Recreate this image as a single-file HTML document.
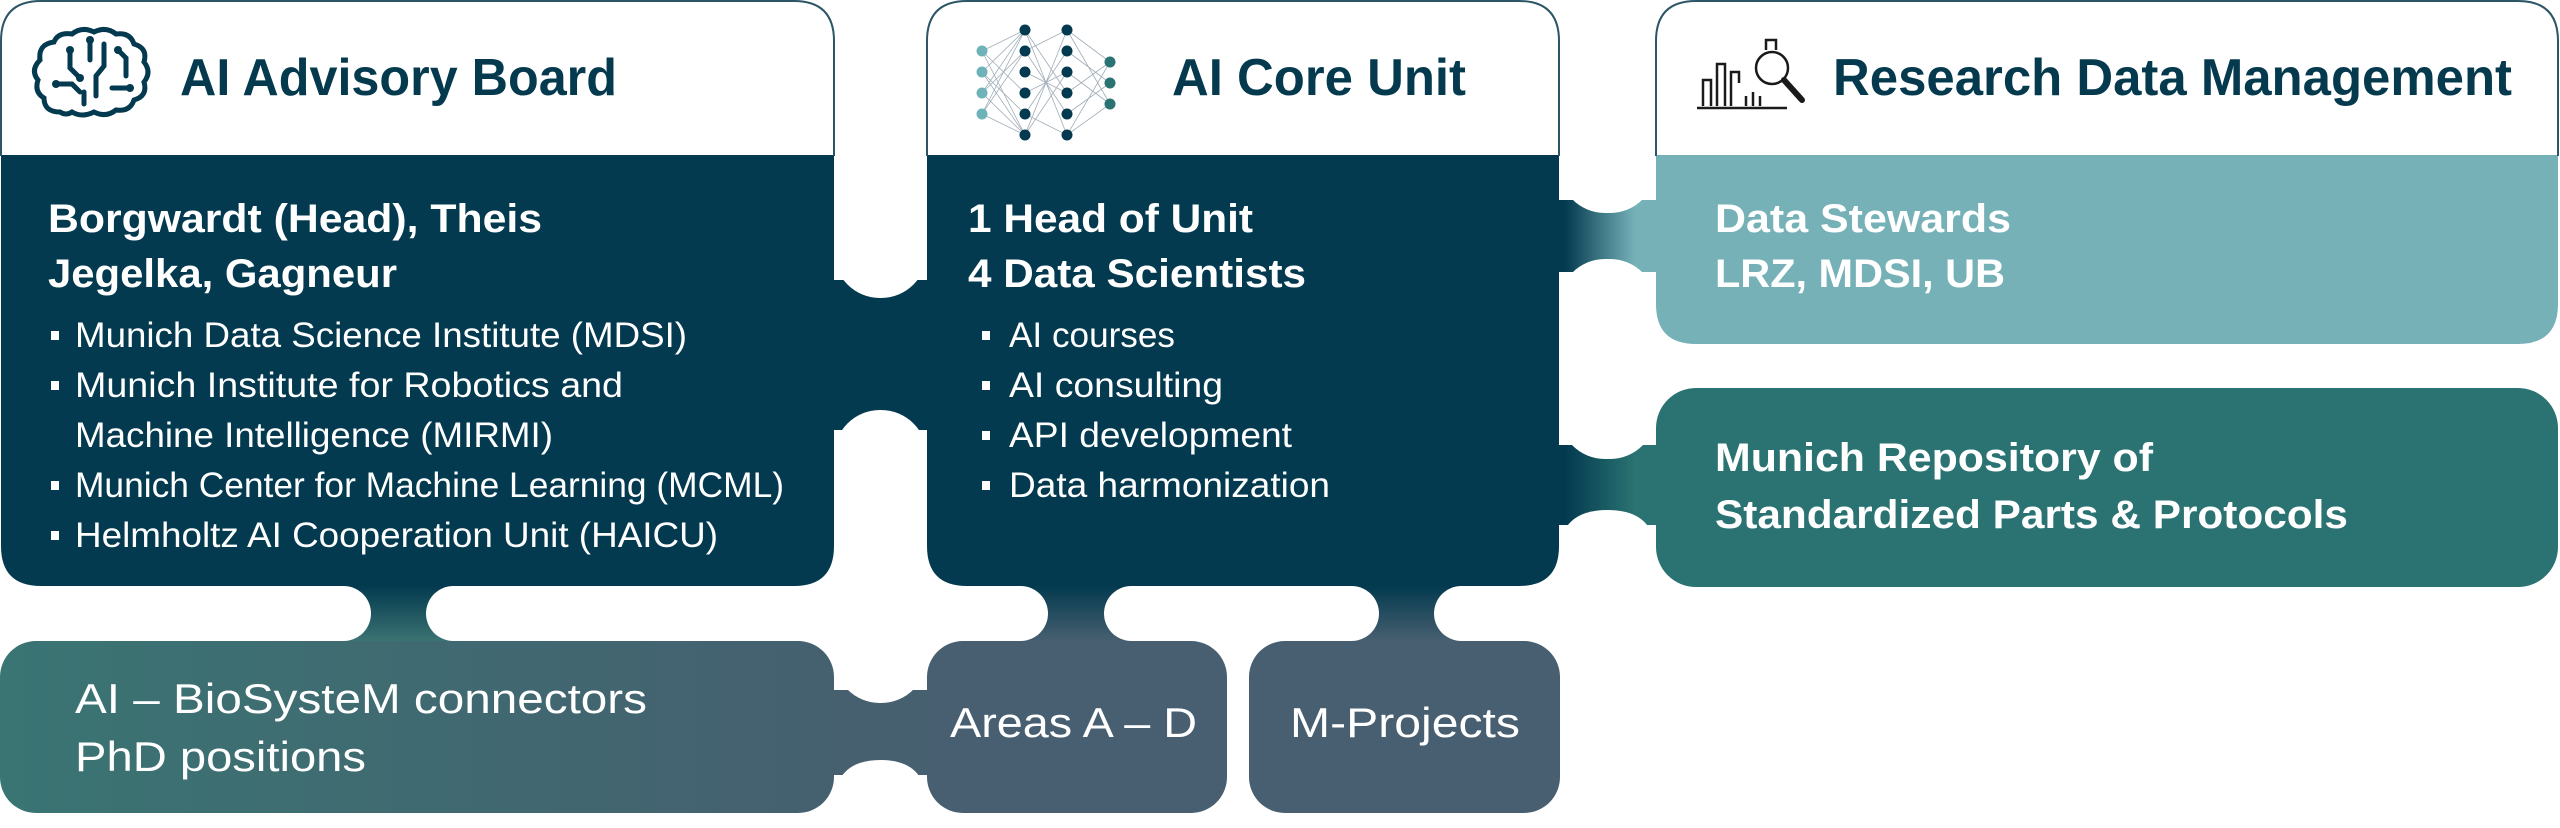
<!DOCTYPE html>
<html><head><meta charset="utf-8"><style>
html,body{margin:0;padding:0;background:#fff;width:2560px;height:828px;overflow:hidden}
svg{display:block}
text{font-family:"Liberation Sans",sans-serif}
</style></head><body>
<svg width="2560" height="828" viewBox="0 0 2560 828" xmlns="http://www.w3.org/2000/svg">
<defs>
<linearGradient id="gBL" x1="0" y1="0" x2="1" y2="0"><stop offset="0" stop-color="#3a7473"/><stop offset="1" stop-color="#45606f"/></linearGradient>
<linearGradient id="gV1" x1="0" y1="586" x2="0" y2="641" gradientUnits="userSpaceOnUse"><stop offset="0" stop-color="#033a4f"/><stop offset="1" stop-color="#3b7272"/></linearGradient>
<linearGradient id="gV2" x1="0" y1="586" x2="0" y2="641" gradientUnits="userSpaceOnUse"><stop offset="0" stop-color="#033a4f"/><stop offset="1" stop-color="#475f70"/></linearGradient>
<linearGradient id="gH1" x1="1565" y1="0" x2="1635" y2="0" gradientUnits="userSpaceOnUse"><stop offset="0" stop-color="#033a4f"/><stop offset="1" stop-color="#76b1b8"/></linearGradient>
<linearGradient id="gH2" x1="1565" y1="0" x2="1635" y2="0" gradientUnits="userSpaceOnUse"><stop offset="0" stop-color="#033a4f"/><stop offset="1" stop-color="#2a7372"/></linearGradient>
</defs>

<rect x="1" y="1" width="833" height="585" rx="40" fill="#fff"/>
<rect x="927" y="1" width="632" height="585" rx="40" fill="#fff"/>
<rect x="1656" y="1" width="902" height="343" rx="40" fill="#fff"/>

<path d="M1 155 H834 V546 Q834 586 794 586 H41 Q1 586 1 546 Z" fill="#033a4f"/>
<path d="M927 155 H1559 V546 Q1559 586 1519 586 H967 Q927 586 927 546 Z" fill="#033a4f"/>
<path d="M1656 155 H2558 V304 Q2558 344 2518 344 H1696 Q1656 344 1656 304 Z" fill="#76b1b8"/>
<rect x="1656" y="388" width="902" height="199" rx="40" fill="#2a7372"/>

<rect x="0" y="641" width="834" height="172" rx="36" fill="url(#gBL)"/>
<rect x="927" y="641" width="300" height="172" rx="36" fill="#475f70"/>
<rect x="1249" y="641" width="311" height="172" rx="36" fill="#475f70"/>

<rect x="834" y="280" width="93" height="150" fill="#033a4f"/>
<rect x="834" y="690" width="93" height="85" fill="#46606f"/>
<rect x="340" y="586" width="120" height="55" fill="url(#gV1)"/>
<rect x="1000" y="586" width="500" height="55" fill="url(#gV2)"/>
<rect x="1559" y="200" width="97" height="72" fill="url(#gH1)"/>
<rect x="1559" y="445" width="97" height="80" fill="url(#gH2)"/>

<g fill="#fff">
<rect x="834" y="100" width="93" height="198" rx="46"/>
<rect x="834" y="410" width="93" height="293" rx="46"/>
<path d="M834 828 V806 Q834 760 880.5 760 Q927 760 927 806 V828 Z"/>
<rect x="250" y="586" width="121" height="55" rx="27.5"/>
<rect x="426" y="586" width="200" height="55" rx="27.5"/>
<rect x="960" y="586" width="88" height="55" rx="27.5"/>
<rect x="1104" y="586" width="275" height="55" rx="27.5"/>
<rect x="1434" y="586" width="106" height="55" rx="27.5"/>
<rect x="1559" y="60" width="97" height="153" rx="46"/>
<rect x="1559" y="259" width="97" height="200" rx="46"/>
<path d="M1559 620 V556 Q1559 510 1607.5 510 Q1656 510 1656 556 V620 Z"/>
</g>

<g fill="none" stroke="#2c5566" stroke-width="2">
<path d="M1 156 V41 Q1 1 41 1 H794 Q834 1 834 41 V156"/>
<path d="M927 156 V41 Q927 1 967 1 H1519 Q1559 1 1559 41 V156"/>
<path d="M1656 156 V41 Q1656 1 1696 1 H2518 Q2558 1 2558 41 V156"/>
</g>

<g fill="none" stroke="#033a4f" stroke-width="5" stroke-linecap="round">
<path d="M60 112 Q44 112 44 98 Q34 92 38 80 Q30 70 40 60 Q38 44 54 42 Q58 32 72 34 Q82 26 94 32 Q106 26 116 34 Q130 32 134 44 Q148 48 144 62 Q152 72 144 82 Q148 96 134 100 Q130 112 116 110 Q106 118 94 112 Q82 118 72 112 Q66 116 60 112 Z"/>
<path d="M70 50 V68 L80 78"/><path d="M90 40 V60"/><path d="M104 44 V66 L96 76 V96"/><path d="M118 50 L126 58 V76"/>
<path d="M56 84 H72 L80 92"/><path d="M112 88 H130"/><path d="M84 104 V92"/>
</g>
<g fill="#033a4f"><circle cx="70" cy="50" r="4"/><circle cx="90" cy="40" r="4"/><circle cx="118" cy="50" r="4"/><circle cx="56" cy="84" r="4"/><circle cx="130" cy="88" r="4"/><circle cx="80" cy="78" r="4"/></g>

<g stroke="#8a99a6" stroke-width="0.8" opacity="0.8">
<path d="M982 51 L1025 30 M982 51 L1025 135 M982 72 L1025 30 M982 72 L1025 135 M982 93 L1025 30 M982 93 L1025 135 M982 114 L1025 30 M982 114 L1025 135 M982 51 L1025 93 M982 114 L1025 51 M982 72 L1025 114 M982 93 L1025 51"/>
<path d="M1025 30 L1067 135 M1025 135 L1067 30 M1025 51 L1067 114 M1025 114 L1067 51 M1025 72 L1067 93 M1025 93 L1067 72 M1025 30 L1067 93 M1025 135 L1067 72 M1025 51 L1067 30 M1025 114 L1067 135"/>
<path d="M1067 30 L1110 62 M1067 30 L1110 104 M1067 135 L1110 62 M1067 135 L1110 104 M1067 51 L1110 83 M1067 72 L1110 104 M1067 93 L1110 62 M1067 114 L1110 83"/>
</g>
<g fill="#6fb3ba"><circle cx="982" cy="51" r="5.5"/><circle cx="982" cy="72" r="5.5"/><circle cx="982" cy="93" r="5.5"/><circle cx="982" cy="114" r="5.5"/></g>
<g fill="#033a4f"><circle cx="1025" cy="30" r="5.5"/><circle cx="1025" cy="51" r="5.5"/><circle cx="1025" cy="72" r="5.5"/><circle cx="1025" cy="93" r="5.5"/><circle cx="1025" cy="114" r="5.5"/><circle cx="1025" cy="135" r="5.5"/>
<circle cx="1067" cy="30" r="5.5"/><circle cx="1067" cy="51" r="5.5"/><circle cx="1067" cy="72" r="5.5"/><circle cx="1067" cy="93" r="5.5"/><circle cx="1067" cy="114" r="5.5"/><circle cx="1067" cy="135" r="5.5"/></g>
<g fill="#2a7372"><circle cx="1110" cy="62" r="5.5"/><circle cx="1110" cy="83" r="5.5"/><circle cx="1110" cy="104" r="5.5"/></g>

<g fill="none" stroke="#1a1a1a" stroke-width="2.5">
<path d="M1697 108 H1787"/>
<path d="M1703 106 V80 H1711 V106"/><path d="M1717 106 V64 H1725 V106"/><path d="M1731 106 V72 H1739 V83"/>
<path d="M1746 106 V96 M1753 106 V92 M1760 106 V96"/>
<circle cx="1772" cy="68" r="16"/>
<path d="M1784 80 L1802 100" stroke-width="6" stroke-linecap="round"/>
<path d="M1766 50 V40 H1776 V50"/>
</g>

<g fill="#053a4e" font-weight="bold" font-size="52">
<text x="180" y="95" textLength="437" lengthAdjust="spacingAndGlyphs">AI Advisory Board</text>
<text x="1172" y="95" textLength="294" lengthAdjust="spacingAndGlyphs">AI Core Unit</text>
<text x="1833" y="95" textLength="679" lengthAdjust="spacingAndGlyphs">Research Data Management</text>
</g>

<g fill="#fff" font-weight="bold" font-size="40">
<text x="48" y="232" textLength="494" lengthAdjust="spacingAndGlyphs">Borgwardt (Head), Theis</text>
<text x="48" y="287" textLength="349" lengthAdjust="spacingAndGlyphs">Jegelka, Gagneur</text>
<text x="968" y="232" textLength="285" lengthAdjust="spacingAndGlyphs">1 Head of Unit</text>
<text x="968" y="287" textLength="338" lengthAdjust="spacingAndGlyphs">4 Data Scientists</text>
<text x="1715" y="232" textLength="296" lengthAdjust="spacingAndGlyphs">Data Stewards</text>
<text x="1715" y="287" textLength="290" lengthAdjust="spacingAndGlyphs">LRZ, MDSI, UB</text>
<text x="1715" y="471" textLength="438" lengthAdjust="spacingAndGlyphs">Munich Repository of</text>
<text x="1715" y="528" textLength="633" lengthAdjust="spacingAndGlyphs">Standardized Parts &amp; Protocols</text>
</g>

<g fill="#fff">
<rect x="51" y="331" width="8" height="9"/><rect x="51" y="381" width="8" height="9"/><rect x="51" y="481" width="8" height="9"/><rect x="51" y="531" width="8" height="9"/>
<rect x="982" y="331" width="8" height="9"/><rect x="982" y="381" width="8" height="9"/><rect x="982" y="431" width="8" height="9"/><rect x="982" y="481" width="8" height="9"/>
</g>
<g fill="#fff" font-size="35">
<text x="75" y="347" textLength="612" lengthAdjust="spacingAndGlyphs">Munich Data Science Institute (MDSI)</text>
<text x="75" y="397" textLength="548" lengthAdjust="spacingAndGlyphs">Munich Institute for Robotics and</text>
<text x="75" y="447" textLength="478" lengthAdjust="spacingAndGlyphs">Machine Intelligence (MIRMI)</text>
<text x="75" y="497" textLength="709" lengthAdjust="spacingAndGlyphs">Munich Center for Machine Learning (MCML)</text>
<text x="75" y="547" textLength="643" lengthAdjust="spacingAndGlyphs">Helmholtz AI Cooperation Unit (HAICU)</text>
<text x="1009" y="347" textLength="166" lengthAdjust="spacingAndGlyphs">AI courses</text>
<text x="1009" y="397" textLength="214" lengthAdjust="spacingAndGlyphs">AI consulting</text>
<text x="1009" y="447" textLength="283" lengthAdjust="spacingAndGlyphs">API development</text>
<text x="1009" y="497" textLength="321" lengthAdjust="spacingAndGlyphs">Data harmonization</text>
</g>

<g fill="#fff" font-size="42">
<text x="75" y="713" textLength="572" lengthAdjust="spacingAndGlyphs">AI – BioSysteM connectors</text>
<text x="75" y="771" textLength="291" lengthAdjust="spacingAndGlyphs">PhD positions</text>
<text x="950" y="737" textLength="247" lengthAdjust="spacingAndGlyphs">Areas A – D</text>
<text x="1290" y="737" textLength="230" lengthAdjust="spacingAndGlyphs">M-Projects</text>
</g>
</svg>
</body></html>
